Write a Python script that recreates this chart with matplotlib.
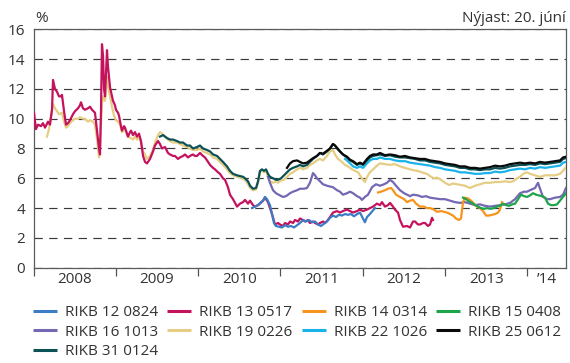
import matplotlib
matplotlib.use("Agg")
import matplotlib.pyplot as plt
from matplotlib.lines import Line2D

plt.rcParams['font.family'] = ['Open Sans', 'DejaVu Sans']
plt.rcParams['lines.scale_dashes'] = False

TXT = '#333333'

# Government bond yields (%), dates as decimal years
t_1208 = [2010.655, 2010.691, 2010.728, 2010.764, 2010.789, 2010.813, 2010.837, 2010.873, 2010.898,
          2010.922, 2010.946, 2010.983, 2011.019, 2011.056, 2011.092, 2011.129, 2011.165, 2011.202,
          2011.238, 2011.275, 2011.311, 2011.347, 2011.384, 2011.420, 2011.457, 2011.493, 2011.529,
          2011.566, 2011.602, 2011.639, 2011.675, 2011.712, 2011.748, 2011.785, 2011.821, 2011.858,
          2011.894, 2011.931, 2011.967, 2012.003, 2012.027, 2012.052, 2012.088, 2012.125, 2012.149]
y_1208 = [4.0, 4.1, 4.2, 4.4, 4.5, 4.75, 4.6, 4.2, 3.6, 3.0, 2.8, 2.75, 2.7, 2.85, 2.75,
          2.8, 2.7, 2.85, 3.0, 3.2, 3.1, 3.2, 3.05, 3.1, 2.9, 2.8, 2.95, 3.1, 3.35, 3.5,
          3.4, 3.55, 3.5, 3.6, 3.55, 3.6, 3.45, 3.6, 3.7, 3.3, 3.05, 3.4, 3.6, 3.85, 4.0]

t_1305 = [2008.006, 2008.030, 2008.055, 2008.091, 2008.115, 2008.140, 2008.176, 2008.200, 2008.225,
          2008.237, 2008.261, 2008.286, 2008.310, 2008.334, 2008.346, 2008.371, 2008.395, 2008.419,
          2008.443, 2008.480, 2008.504, 2008.541, 2008.565, 2008.577, 2008.601, 2008.626, 2008.662,
          2008.687, 2008.711, 2008.747, 2008.759, 2008.772, 2008.796, 2008.808, 2008.820, 2008.832,
          2008.845, 2008.857, 2008.869, 2008.881, 2008.893, 2008.905, 2008.930, 2008.954, 2008.966,
          2008.990, 2009.002, 2009.027, 2009.039, 2009.063, 2009.075, 2009.100, 2009.112, 2009.136,
          2009.148, 2009.173, 2009.185, 2009.209, 2009.233, 2009.258, 2009.282, 2009.306, 2009.331,
          2009.355, 2009.379, 2009.416, 2009.452, 2009.476, 2009.513, 2009.537, 2009.561, 2009.598,
          2009.634, 2009.659, 2009.695, 2009.719, 2009.756, 2009.780, 2009.817, 2009.841, 2009.877,
          2009.901, 2009.938, 2009.962, 2009.987, 2010.023, 2010.060, 2010.084, 2010.120, 2010.145,
          2010.181, 2010.205, 2010.242, 2010.266, 2010.302, 2010.327, 2010.363, 2010.387, 2010.424,
          2010.473, 2010.509, 2010.546, 2010.570, 2010.606, 2010.631, 2010.667, 2010.691, 2010.728,
          2010.752, 2010.789, 2010.813, 2010.849, 2010.873, 2010.898, 2010.934, 2010.971, 2010.995,
          2011.031, 2011.056, 2011.092, 2011.117, 2011.153, 2011.177, 2011.214, 2011.238, 2011.275,
          2011.299, 2011.335, 2011.359, 2011.396, 2011.420, 2011.457, 2011.481, 2011.517, 2011.542,
          2011.578, 2011.602, 2011.639, 2011.688, 2011.724, 2011.760, 2011.809, 2011.846, 2011.882,
          2011.931, 2011.967, 2012.003, 2012.052, 2012.088, 2012.125, 2012.173, 2012.210, 2012.234,
          2012.271, 2012.307, 2012.332, 2012.368, 2012.392, 2012.429, 2012.453, 2012.490, 2012.538,
          2012.575, 2012.611, 2012.636, 2012.672, 2012.696, 2012.733, 2012.757, 2012.793, 2012.818,
          2012.842, 2012.854]
y_1305 = [10.4, 9.3, 9.6, 9.5, 9.7, 9.4, 9.8, 9.6, 10.6, 12.6, 12.0, 11.8, 11.5, 11.5, 11.6,
          10.5, 9.6, 9.7, 9.9, 10.3, 10.5, 10.7, 10.9, 11.1, 10.7, 10.6, 10.7, 10.8, 10.6, 10.4,
          9.8, 9.2, 8.0, 7.6, 10.5, 15.0, 14.2, 12.0, 11.5, 13.0, 14.6, 13.5, 12.1, 11.5, 11.2,
          10.9, 10.6, 10.4, 10.2, 9.5, 9.2, 9.5, 9.4, 9.0, 8.8, 9.1, 9.2, 8.9, 9.1, 8.8,
          9.0, 8.5, 7.5, 7.1, 7.0, 7.3, 7.8, 8.2, 8.5, 8.3, 8.0, 8.1, 7.7, 7.6, 7.5,
          7.5, 7.3, 7.4, 7.5, 7.6, 7.4, 7.5, 7.6, 7.5, 7.5, 7.7, 7.5, 7.4, 7.1, 6.9,
          6.7, 6.6, 6.4, 6.3, 6.0, 5.9, 5.4, 4.9, 4.6, 4.1, 4.3, 4.4, 4.55, 4.3, 4.5,
          4.2, 4.1, 4.2, 4.3, 4.5, 4.7, 4.4, 4.0, 3.6, 2.9, 3.0, 2.9, 2.8, 3.0, 2.9,
          3.1, 3.0, 3.2, 3.1, 3.3, 3.2, 3.1, 3.2, 3.0, 3.1, 3.0, 2.9, 3.0, 3.1, 3.0,
          3.2, 3.4, 3.7, 3.8, 3.7, 3.8, 3.9, 3.8, 3.7, 3.8, 3.9, 3.8, 3.9, 4.0, 4.1,
          4.3, 4.2, 4.4, 4.1, 4.2, 4.35, 4.1, 3.9, 3.7, 3.2, 2.75, 2.8, 2.7, 3.1, 3.1,
          2.9, 2.9, 3.0, 3.0, 2.8, 2.9, 3.35, 3.2]

t_1403 = [2012.186, 2012.222, 2012.271, 2012.307, 2012.344, 2012.368, 2012.405, 2012.453, 2012.502,
          2012.538, 2012.575, 2012.611, 2012.648, 2012.696, 2012.745, 2012.781, 2012.818, 2012.866,
          2012.903, 2012.951, 2012.988, 2013.024, 2013.061, 2013.097, 2013.134, 2013.170, 2013.194,
          2013.219, 2013.243, 2013.280, 2013.316, 2013.352, 2013.389, 2013.425, 2013.462, 2013.498,
          2013.535, 2013.571, 2013.608, 2013.644, 2013.668, 2013.693]
y_1403 = [5.05, 5.1, 5.2, 5.3, 5.35, 5.2, 4.9, 4.75, 4.6, 4.4, 4.5, 4.55, 4.3, 4.1, 4.1,
          4.0, 4.0, 3.9, 3.75, 3.8, 3.75, 3.7, 3.6, 3.5, 3.3, 3.2, 3.3, 4.4, 4.7, 4.65,
          4.5, 4.3, 4.1, 4.0, 3.8, 3.5, 3.5, 3.55, 3.6, 3.7, 3.9, 4.4]

t_1504 = [2013.219, 2013.255, 2013.292, 2013.328, 2013.365, 2013.401, 2013.437, 2013.474, 2013.510,
          2013.547, 2013.595, 2013.632, 2013.668, 2013.705, 2013.741, 2013.778, 2013.814, 2013.851,
          2013.887, 2013.923, 2013.960, 2013.996, 2014.033, 2014.069, 2014.106, 2014.142, 2014.179,
          2014.215, 2014.252, 2014.288, 2014.325, 2014.361, 2014.397, 2014.434, 2014.470]
y_1504 = [4.7, 4.6, 4.45, 4.35, 4.2, 4.1, 4.0, 3.95, 4.0, 3.95, 4.0, 4.1, 4.15, 4.3, 4.2,
          4.15, 4.25, 4.3, 4.6, 4.9, 4.8, 4.75, 4.85, 5.0, 4.9, 4.85, 4.8, 4.7, 4.3, 4.2,
          4.2, 4.25, 4.5, 4.75, 5.0]

t_1610 = [2010.849, 2010.873, 2010.910, 2010.946, 2010.995, 2011.031, 2011.068, 2011.117, 2011.153,
          2011.202, 2011.238, 2011.287, 2011.323, 2011.359, 2011.396, 2011.420, 2011.444, 2011.481,
          2011.517, 2011.566, 2011.602, 2011.639, 2011.688, 2011.724, 2011.760, 2011.809, 2011.846,
          2011.882, 2011.931, 2011.967, 2011.991, 2012.027, 2012.064, 2012.113, 2012.161, 2012.210,
          2012.259, 2012.295, 2012.332, 2012.368, 2012.405, 2012.453, 2012.502, 2012.575, 2012.611,
          2012.672, 2012.721, 2012.769, 2012.818, 2012.879, 2012.939, 2013.000, 2013.061, 2013.122,
          2013.182, 2013.243, 2013.304, 2013.365, 2013.425, 2013.486, 2013.547, 2013.608, 2013.668,
          2013.729, 2013.790, 2013.851, 2013.911, 2013.960, 2013.996, 2014.033, 2014.094, 2014.130,
          2014.167, 2014.191, 2014.240, 2014.276, 2014.337, 2014.397, 2014.434, 2014.470]
y_1610 = [6.1, 5.7, 5.2, 5.0, 4.85, 4.75, 4.8, 5.0, 5.1, 5.2, 5.3, 5.3, 5.35, 5.7, 6.35,
          6.2, 6.0, 5.8, 5.6, 5.5, 5.45, 5.4, 5.2, 5.1, 4.9, 5.0, 5.1, 5.0, 4.8, 4.7,
          4.55, 4.75, 4.9, 5.4, 5.6, 5.5, 5.6, 5.7, 5.9, 5.75, 5.5, 5.2, 5.0, 4.8, 4.9,
          4.85, 4.75, 4.8, 4.7, 4.65, 4.6, 4.6, 4.5, 4.4, 4.35, 4.4, 4.3, 4.2, 4.25, 4.15,
          4.1, 4.15, 4.2, 4.25, 4.35, 4.6, 5.0, 5.1, 5.1, 5.2, 5.35, 5.7, 5.1, 4.75, 4.6,
          4.6, 4.7, 4.75, 4.9, 5.35]

t_1902 = [2008.164, 2008.188, 2008.213, 2008.237, 2008.261, 2008.286, 2008.310, 2008.346, 2008.371,
          2008.395, 2008.419, 2008.443, 2008.480, 2008.504, 2008.541, 2008.565, 2008.601, 2008.626,
          2008.662, 2008.687, 2008.723, 2008.747, 2008.772, 2008.796, 2008.808, 2008.832, 2008.845,
          2008.869, 2008.893, 2008.905, 2008.930, 2008.954, 2008.978, 2009.002, 2009.027, 2009.051,
          2009.075, 2009.112, 2009.136, 2009.148, 2009.185, 2009.209, 2009.233, 2009.258, 2009.282,
          2009.306, 2009.331, 2009.355, 2009.379, 2009.416, 2009.452, 2009.476, 2009.513, 2009.537,
          2009.561, 2009.598, 2009.634, 2009.659, 2009.695, 2009.744, 2009.780, 2009.817, 2009.865,
          2009.901, 2009.938, 2009.987, 2010.023, 2010.060, 2010.108, 2010.145, 2010.181, 2010.230,
          2010.266, 2010.302, 2010.351, 2010.387, 2010.424, 2010.473, 2010.509, 2010.546, 2010.570,
          2010.606, 2010.631, 2010.667, 2010.704, 2010.728, 2010.752, 2010.776, 2010.801, 2010.825,
          2010.849, 2010.873, 2010.910, 2010.946, 2010.971, 2011.007, 2011.044, 2011.080, 2011.117,
          2011.153, 2011.202, 2011.238, 2011.275, 2011.323, 2011.359, 2011.396, 2011.444, 2011.481,
          2011.517, 2011.566, 2011.602, 2011.639, 2011.663, 2011.700, 2011.748, 2011.785, 2011.821,
          2011.870, 2011.906, 2011.943, 2011.991, 2012.027, 2012.064, 2012.088, 2012.125, 2012.173,
          2012.210, 2012.271, 2012.332, 2012.392, 2012.453, 2012.514, 2012.575, 2012.611, 2012.660,
          2012.696, 2012.745, 2012.781, 2012.830, 2012.866, 2012.903, 2012.951, 2013.000, 2013.049,
          2013.097, 2013.146, 2013.194, 2013.243, 2013.304, 2013.365, 2013.425, 2013.486, 2013.547,
          2013.608, 2013.668, 2013.729, 2013.790, 2013.826, 2013.875, 2013.911, 2013.948, 2013.996,
          2014.033, 2014.094, 2014.154, 2014.215, 2014.276, 2014.337, 2014.397, 2014.434, 2014.470]
y_1902 = [8.8, 9.3, 10.2, 11.0, 10.7, 10.5, 10.3, 10.4, 9.8, 9.4, 9.5, 9.7, 9.9, 10.0, 10.0,
          10.1, 10.0, 10.0, 9.8, 9.9, 9.8, 9.6, 8.6, 7.4, 8.2, 11.0, 11.5, 11.2, 12.8, 12.2,
          11.5, 10.8, 10.2, 9.9, 9.8, 9.6, 9.1, 9.3, 8.9, 8.8, 8.7, 8.6, 8.8, 8.6, 8.8,
          8.4, 7.8, 7.6, 7.3, 7.5, 7.9, 8.4, 8.9, 9.1, 9.0, 8.8, 8.6, 8.5, 8.4, 8.4,
          8.3, 8.2, 8.1, 8.0, 7.9, 7.9, 8.0, 7.8, 7.7, 7.6, 7.4, 7.3, 7.1, 6.9, 6.6,
          6.35, 6.2, 6.1, 6.05, 5.95, 5.9, 5.6, 5.35, 5.2, 5.25, 5.7, 6.4, 6.55, 6.4, 6.5,
          6.1, 5.8, 5.7, 5.8, 5.7, 5.85, 5.9, 6.1, 6.3, 6.4, 6.6, 6.7, 6.6, 6.7, 6.9,
          7.0, 7.2, 7.3, 7.2, 7.5, 7.8, 7.9, 7.6, 7.3, 7.1, 6.9, 6.8, 6.6, 6.5, 6.4,
          6.0, 5.75, 6.2, 6.4, 6.6, 6.85, 7.0, 6.95, 6.9, 6.95, 6.8, 6.7, 6.6, 6.55, 6.5,
          6.45, 6.35, 6.3, 6.1, 6.0, 6.05, 5.9, 5.7, 5.55, 5.65, 5.6, 5.55, 5.5, 5.35, 5.5,
          5.6, 5.7, 5.7, 5.75, 5.75, 5.8, 5.75, 5.8, 6.0, 6.1, 6.3, 6.4, 6.3, 6.2, 6.1,
          6.2, 6.2, 6.2, 6.3, 6.5, 6.75]

t_2210 = [2011.785, 2011.809, 2011.846, 2011.882, 2011.931, 2011.967, 2012.003, 2012.052, 2012.088,
          2012.125, 2012.173, 2012.210, 2012.271, 2012.332, 2012.392, 2012.453, 2012.514, 2012.575,
          2012.636, 2012.696, 2012.757, 2012.818, 2012.879, 2012.939, 2013.000, 2013.061, 2013.122,
          2013.182, 2013.243, 2013.304, 2013.365, 2013.425, 2013.486, 2013.547, 2013.608, 2013.668,
          2013.729, 2013.790, 2013.851, 2013.911, 2013.972, 2014.033, 2014.094, 2014.154, 2014.215,
          2014.276, 2014.337, 2014.397, 2014.434, 2014.470]
y_2210 = [7.3, 7.2, 7.0, 6.8, 6.7, 6.8, 6.7, 7.0, 7.2, 7.3, 7.3, 7.4, 7.3, 7.3, 7.2,
          7.15, 7.15, 7.05, 7.0, 6.95, 6.9, 6.85, 6.75, 6.7, 6.6, 6.55, 6.5, 6.4, 6.4, 6.35,
          6.3, 6.3, 6.35, 6.35, 6.45, 6.4, 6.45, 6.55, 6.6, 6.65, 6.6, 6.7, 6.65, 6.75, 6.7,
          6.75, 6.8, 6.85, 7.05, 7.1]

t_2506 = [2011.080, 2011.117, 2011.153, 2011.202, 2011.238, 2011.275, 2011.323, 2011.359, 2011.396,
          2011.444, 2011.481, 2011.517, 2011.566, 2011.602, 2011.639, 2011.663, 2011.688, 2011.724,
          2011.760, 2011.809, 2011.846, 2011.882, 2011.931, 2011.967, 2012.003, 2012.052, 2012.088,
          2012.125, 2012.173, 2012.210, 2012.271, 2012.332, 2012.392, 2012.453, 2012.514, 2012.575,
          2012.636, 2012.696, 2012.757, 2012.818, 2012.879, 2012.939, 2013.000, 2013.061, 2013.122,
          2013.182, 2013.243, 2013.304, 2013.365, 2013.425, 2013.486, 2013.547, 2013.608, 2013.668,
          2013.729, 2013.790, 2013.851, 2013.911, 2013.972, 2014.033, 2014.094, 2014.154, 2014.215,
          2014.276, 2014.337, 2014.397, 2014.434, 2014.470]
y_2506 = [6.7, 7.0, 7.15, 7.2, 7.1, 7.0, 7.05, 7.2, 7.35, 7.5, 7.7, 7.65, 7.85, 8.0, 8.3,
          8.2, 8.05, 7.8, 7.6, 7.45, 7.25, 7.15, 6.95, 7.05, 6.95, 7.3, 7.5, 7.6, 7.6, 7.7,
          7.55, 7.6, 7.55, 7.45, 7.5, 7.4, 7.35, 7.3, 7.3, 7.2, 7.15, 7.1, 7.0, 6.95, 6.9,
          6.8, 6.8, 6.7, 6.7, 6.65, 6.7, 6.75, 6.85, 6.8, 6.85, 6.95, 7.0, 7.05, 7.0, 7.05,
          7.0, 7.1, 7.05, 7.1, 7.15, 7.2, 7.4, 7.45]

t_3101 = [2009.537, 2009.574, 2009.622, 2009.659, 2009.695, 2009.744, 2009.780, 2009.817, 2009.865,
          2009.901, 2009.938, 2009.987, 2010.023, 2010.060, 2010.108, 2010.145, 2010.181, 2010.230,
          2010.266, 2010.302, 2010.351, 2010.387, 2010.424, 2010.473, 2010.509, 2010.546, 2010.570,
          2010.606, 2010.631, 2010.667, 2010.704, 2010.728, 2010.752, 2010.776, 2010.801, 2010.825,
          2010.849, 2010.873, 2010.910, 2010.946, 2010.971, 2011.007, 2011.044, 2011.080, 2011.117,
          2011.153, 2011.202, 2011.238, 2011.275, 2011.323, 2011.359, 2011.396, 2011.444, 2011.481,
          2011.517, 2011.566, 2011.602, 2011.639, 2011.663, 2011.688, 2011.724, 2011.760, 2011.809,
          2011.846, 2011.882, 2011.931, 2011.967, 2012.003, 2012.052, 2012.088, 2012.125, 2012.173,
          2012.210, 2012.271, 2012.332, 2012.392, 2012.453, 2012.514, 2012.575, 2012.636, 2012.696,
          2012.757, 2012.818, 2012.879, 2012.939, 2013.000, 2013.061, 2013.122, 2013.182, 2013.243,
          2013.304, 2013.365, 2013.425, 2013.486, 2013.547, 2013.608, 2013.668, 2013.729, 2013.790,
          2013.851, 2013.911, 2013.972, 2014.033, 2014.094, 2014.154, 2014.215, 2014.276, 2014.337,
          2014.397, 2014.434, 2014.470]
y_3101 = [8.8, 8.9, 8.7, 8.6, 8.6, 8.5, 8.4, 8.4, 8.2, 8.2, 8.0, 8.1, 8.2, 8.0, 7.9,
          7.8, 7.6, 7.5, 7.3, 7.1, 6.8, 6.5, 6.3, 6.2, 6.15, 6.1, 6.0, 5.8, 5.5, 5.3,
          5.35, 5.8, 6.5, 6.6, 6.5, 6.6, 6.3, 6.1, 6.0, 5.9, 5.9, 6.0, 6.2, 6.4, 6.6,
          6.7, 6.8, 6.9, 6.8, 6.9, 7.1, 7.3, 7.5, 7.7, 7.6, 7.8, 8.0, 8.3, 8.2, 8.0,
          7.8, 7.6, 7.4, 7.2, 7.1, 6.9, 7.0, 6.9, 7.2, 7.4, 7.5, 7.55, 7.6, 7.5, 7.55,
          7.45, 7.4, 7.4, 7.35, 7.3, 7.2, 7.2, 7.1, 7.05, 7.0, 6.9, 6.85, 6.8, 6.7, 6.7,
          6.6, 6.6, 6.55, 6.6, 6.6, 6.7, 6.65, 6.7, 6.8, 6.85, 6.9, 6.9, 6.95, 6.9, 7.0,
          6.95, 7.0, 7.05, 7.1, 7.3, 7.35]

labels = ["RIKB 12 0824", "RIKB 13 0517", "RIKB 14 0314", "RIKB 15 0408", "RIKB 16 1013",
          "RIKB 19 0226", "RIKB 22 1026", "RIKB 25 0612", "RIKB 31 0124"]
times = [t_1208, t_1305, t_1403, t_1504, t_1610, t_1902, t_2210, t_2506, t_3101]
values = [y_1208, y_1305, y_1403, y_1504, y_1610, y_1902, y_2210, y_2506, y_3101]
colors = ['#3b7cc4', '#c4125d', '#f7941d', '#1ea54b', '#7467b4',
          '#e6cd84', '#19b3ea', '#0a0a0a', '#0c5156']
layers = [5, 4, 5, 6, 4, 3, 6, 8, 7]

year_ticks = [2008, 2009, 2010, 2011, 2012, 2013, 2014]
year_label_pos = [2008.5, 2009.5, 2010.5, 2011.5, 2012.5, 2013.5, 2014.235]
year_labels = ["2008", "2009", "2010", "2011", "2012", "2013", "\u201914"]

fig = plt.figure(figsize=(5.70, 3.63), dpi=100)
ax = fig.add_axes([33.5 / 570, 1 - 267.7 / 363, 532.5 / 570, 238.4 / 363])

lines = {}
for lab, t, v, c, z in zip(labels, times, values, colors, layers):
    lines[lab], = ax.plot(t, v, color=c, lw=1.6, zorder=z, solid_joinstyle='round')

ax.set_xlim(2008, 2014.47)
ax.set_ylim(0, 16)
ax.set_yticks(range(0, 17, 2))
ax.set_xticks(year_ticks)
ax.set_xticklabels([])
ax.set_xticks(year_label_pos, minor=True)
ax.set_xticklabels(year_labels, minor=True)
ax.tick_params(axis='x', which='major', direction='out', length=6, width=0.9, color='#555555')
ax.tick_params(axis='x', which='minor', length=0, pad=3, labelsize=11, labelcolor=TXT)
ax.tick_params(axis='y', length=0, pad=6, labelsize=11, labelcolor=TXT)

ax.grid(True, axis='y', color='#3a3a3a', lw=0.85, linestyle=(0, (6.0, 4.6)), zorder=1)
for s in ax.spines.values():
    s.set_color('#5a5a5a')
    s.set_linewidth(0.9)

fig.text(35 / 570, 1 - 18 / 363, '%', ha='left', va='center', fontsize=11, color=TXT)
fig.text(566 / 570, 1 - 18 / 363, 'Nýjast: 20. júní', ha='right', va='center',
         fontsize=11, color=TXT)

# legend rows run left to right; matplotlib fills columns first
order = ["RIKB 12 0824", "RIKB 16 1013", "RIKB 31 0124", "RIKB 13 0517", "RIKB 19 0226",
         "RIKB 14 0314", "RIKB 22 1026", "RIKB 15 0408", "RIKB 25 0612"]
handles = [Line2D([], [], color=lines[k].get_color(), lw=2.2, solid_capstyle='butt') for k in order]
leg = fig.legend(handles, order, ncol=4, loc='upper left', bbox_to_anchor=(33 / 570, 1 - 305 / 363),
                 frameon=False, fontsize=11, handlelength=1.55, handletextpad=0.55,
                 columnspacing=0.6, labelspacing=0.3, borderpad=0, borderaxespad=0)
for txt in leg.get_texts():
    txt.set_color(TXT)

fig.savefig('out.png', dpi=100)
